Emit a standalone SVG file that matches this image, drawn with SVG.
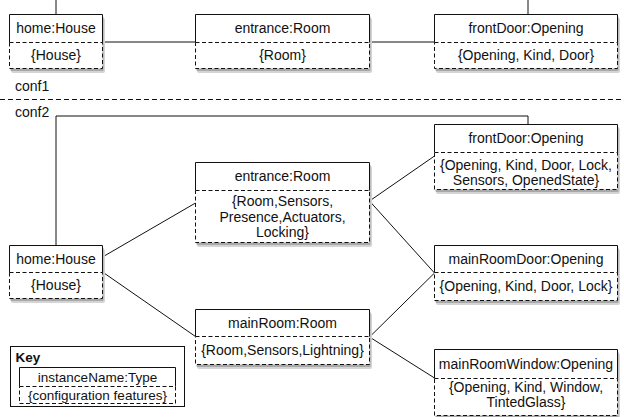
<svg xmlns="http://www.w3.org/2000/svg" width="624" height="417" viewBox="0 0 624 417">
<style>
text{font-family:"Liberation Sans",Arial,sans-serif;font-size:14px;fill:#111;text-anchor:middle}
.bg{fill:#fff;stroke:none}
.s1{fill:#d4d4d4;stroke:none}
.s2{fill:#a8a8a8;stroke:none}
.solid{fill:none;stroke:#111;stroke-width:1}
.dash{fill:none;stroke:#111;stroke-width:1;stroke-dasharray:4,2.5}
.conn{fill:none;stroke:#111;stroke-width:1}
.lbl{text-anchor:start}
.key text{font-size:13.5px}
</style>
<g id="connectors">
<line class="conn" x1="56" y1="0" x2="56" y2="14.5"/>
<line class="conn" x1="528" y1="0" x2="528" y2="14.5"/>
<line class="conn" x1="102.5" y1="42" x2="195.5" y2="42"/>
<line class="conn" x1="369.5" y1="42" x2="434.5" y2="42"/>
<polyline class="conn" points="56,245.5 56,116 528,116 528,124.5"/>
<line class="conn" x1="102.5" y1="257" x2="195.5" y2="203"/>
<line class="conn" x1="102.5" y1="272" x2="195.5" y2="336.5"/>
<line class="conn" x1="369.5" y1="201" x2="434.5" y2="156"/>
<line class="conn" x1="369.5" y1="201" x2="434.5" y2="273"/>
<line class="conn" x1="369.5" y1="337" x2="434.5" y2="273"/>
<line class="conn" x1="369.5" y1="337" x2="434.5" y2="378"/>
</g>
<g id="separator">
<line x1="0" y1="99.5" x2="624" y2="99.5" stroke="#111" stroke-dasharray="5,3"/>
<text class="lbl" x="15" y="91">conf1</text>
<text class="lbl" x="15" y="117">conf2</text>
</g>
<g id="home1">
<rect class="s1" x="11" y="18" width="94" height="55" rx="2"/>
<rect class="s2" x="10.5" y="16.5" width="93" height="54.5" rx="1"/>
<rect class="bg" x="9.5" y="14.5" width="93" height="54"/>
<path class="solid" d="M9.5 42.5V14.5H102.5V42.5"/>
<path class="dash" d="M9.5 42.5H102.5V68.5H9.5Z"/>
<text x="56" y="33">home:House</text>
<text x="56" y="60">{House}</text>
</g>
<g id="entrance1">
<rect class="s1" x="197" y="18" width="175" height="55" rx="2"/>
<rect class="s2" x="196.5" y="16.5" width="174" height="54.5" rx="1"/>
<rect class="bg" x="195.5" y="14.5" width="174" height="54"/>
<path class="solid" d="M195.5 42.5V14.5H369.5V42.5"/>
<path class="dash" d="M195.5 42.5H369.5V68.5H195.5Z"/>
<text x="282.5" y="33">entrance:Room</text>
<text x="282.5" y="60">{Room}</text>
</g>
<g id="frontDoor1">
<rect class="s1" x="436" y="18" width="184" height="55" rx="2"/>
<rect class="s2" x="435.5" y="16.5" width="183" height="54.5" rx="1"/>
<rect class="bg" x="434.5" y="14.5" width="183" height="54"/>
<path class="solid" d="M434.5 42.5V14.5H617.5V42.5"/>
<path class="dash" d="M434.5 42.5H617.5V68.5H434.5Z"/>
<text x="526" y="33">frontDoor:Opening</text>
<text x="526" y="60">{Opening, Kind, Door}</text>
</g>
<g id="home2">
<rect class="s1" x="11" y="249" width="94" height="54" rx="2"/>
<rect class="s2" x="10.5" y="247.5" width="93" height="53.5" rx="1"/>
<rect class="bg" x="9.5" y="245.5" width="93" height="53"/>
<path class="solid" d="M9.5 272.5V245.5H102.5V272.5"/>
<path class="dash" d="M9.5 272.5H102.5V298.5H9.5Z"/>
<text x="56" y="263.5">home:House</text>
<text x="56" y="290">{House}</text>
</g>
<g id="entrance2">
<rect class="s1" x="197" y="166" width="175" height="81" rx="2"/>
<rect class="s2" x="196.5" y="164.5" width="174" height="80.5" rx="1"/>
<rect class="bg" x="195.5" y="162.5" width="174" height="80"/>
<path class="solid" d="M195.5 190.5V162.5H369.5V190.5"/>
<path class="dash" d="M195.5 190.5H369.5V242.5H195.5Z"/>
<text x="282.5" y="181">entrance:Room</text>
<text x="282.5" y="206">{Room,Sensors,</text>
<text x="282.5" y="221.5">Presence,Actuators,</text>
<text x="282.5" y="237">Locking}</text>
</g>
<g id="frontDoor2">
<rect class="s1" x="436" y="128" width="184" height="66" rx="2"/>
<rect class="s2" x="435.5" y="126.5" width="183" height="65.5" rx="1"/>
<rect class="bg" x="434.5" y="124.5" width="183" height="65"/>
<path class="solid" d="M434.5 152.5V124.5H617.5V152.5"/>
<path class="dash" d="M434.5 152.5H617.5V189.5H434.5Z"/>
<text x="526" y="143">frontDoor:Opening</text>
<text x="526" y="169.5">{Opening, Kind, Door, Lock,</text>
<text x="526" y="184.5">Sensors, OpenedState}</text>
</g>
<g id="mainRoomDoor">
<rect class="s1" x="436" y="249" width="184" height="56" rx="2"/>
<rect class="s2" x="435.5" y="247.5" width="183" height="55.5" rx="1"/>
<rect class="bg" x="434.5" y="245.5" width="183" height="55"/>
<path class="solid" d="M434.5 272.5V245.5H617.5V272.5"/>
<path class="dash" d="M434.5 272.5H617.5V300.5H434.5Z"/>
<text x="526" y="263.5">mainRoomDoor:Opening</text>
<text x="526" y="291">{Opening, Kind, Door, Lock}</text>
</g>
<g id="mainRoom">
<rect class="s1" x="197" y="313" width="175" height="56" rx="2"/>
<rect class="s2" x="196.5" y="311.5" width="174" height="55.5" rx="1"/>
<rect class="bg" x="195.5" y="309.5" width="174" height="55"/>
<path class="solid" d="M195.5 336.5V309.5H369.5V336.5"/>
<path class="dash" d="M195.5 336.5H369.5V364.5H195.5Z"/>
<text x="282.5" y="327.5">mainRoom:Room</text>
<text x="282.5" y="355">{Room,Sensors,Lightning}</text>
</g>
<g id="mainRoomWindow">
<rect class="s1" x="436" y="353" width="184" height="67" rx="2"/>
<rect class="s2" x="435.5" y="351.5" width="183" height="66.5" rx="1"/>
<rect class="bg" x="434.5" y="349.5" width="183" height="66"/>
<path class="solid" d="M434.5 378.5V349.5H617.5V378.5"/>
<path class="dash" d="M434.5 378.5H617.5V415.5H434.5Z"/>
<text x="526" y="368.5">mainRoomWindow:Opening</text>
<text x="526" y="392">{Opening, Kind, Window,</text>
<text x="526" y="407">TintedGlass}</text>
</g>
<g id="key" class="key">
<rect class="solid" x="10.5" y="346.5" width="174" height="60"/>
<text class="lbl" x="15.5" y="362" font-weight="bold">Key</text>
<path class="solid" d="M19.5 386.5V367.5H175.5V386.5"/>
<path class="dash" d="M19.5 386.5H175.5V403.5H19.5Z"/>
<text x="97.5" y="382">instanceName:Type</text>
<text x="97.5" y="400">{configuration features}</text>
</g>
</svg>
